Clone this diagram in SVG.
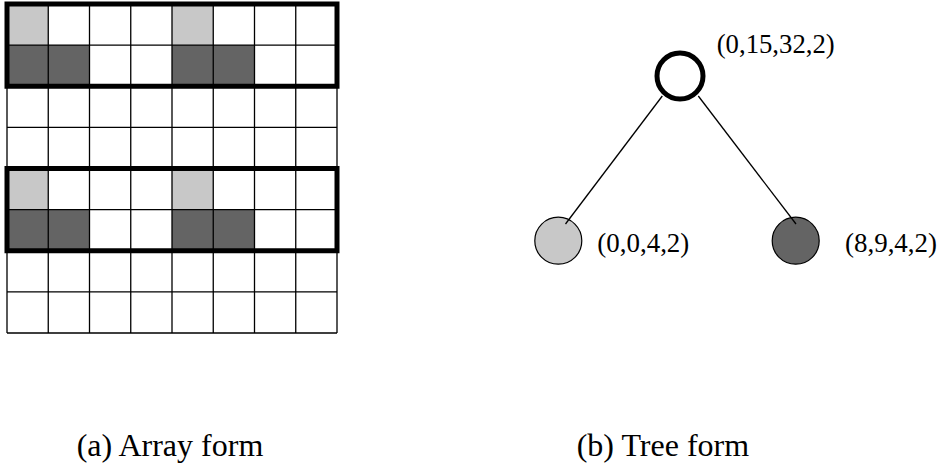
<svg xmlns="http://www.w3.org/2000/svg" width="941" height="469" viewBox="0 0 941 469">
<style>
.grid{stroke:#000;stroke-width:1.3;fill:none}
.thick{stroke:#000;stroke-width:5;fill:none}
.lt{fill:#c8c8c8}
.dk{fill:#646464}
.lbl{font-family:"Liberation Serif","Times New Roman",serif;font-size:27px;fill:#000}
.cap{font-family:"Liberation Serif","Times New Roman",serif;font-size:32px;fill:#000}
.edge{stroke:#000;stroke-width:1.3;fill:none}
</style>
<rect x="0" y="0" width="941" height="469" fill="#fff"/>
<g id="array">
  <g id="block1">
    <rect class="lt" x="7" y="4" width="41.25" height="41.1"/>
    <rect class="lt" x="172" y="4" width="41.25" height="41.1"/>
    <rect class="dk" x="7" y="45.1" width="82.5" height="41.1"/>
    <rect class="dk" x="172" y="45.1" width="82.5" height="41.1"/>
  </g>
  <g id="block2">
    <rect class="lt" x="7" y="168.5" width="41.25" height="41.1"/>
    <rect class="lt" x="172" y="168.5" width="41.25" height="41.1"/>
    <rect class="dk" x="7" y="209.6" width="82.5" height="41.1"/>
    <rect class="dk" x="172" y="209.6" width="82.5" height="41.1"/>
  </g>
  <path class="grid" d="M7 4V333M48.25 4V333M89.5 4V333M130.75 4V333M172 4V333M213.25 4V333M254.5 4V333M295.75 4V333M337 4V333
    M7 4H337M7 45.1H337M7 86.25H337M7 127.4H337M7 168.5H337M7 209.6H337M7 250.75H337M7 291.9H337M7 333H337"/>
  <rect class="thick" x="7" y="4" width="330" height="82.25"/>
  <rect class="thick" x="7" y="168.5" width="330" height="82.25"/>
</g>
<g id="left-child">
  <circle cx="558.3" cy="240.7" r="23.5" class="lt" stroke="#000" stroke-width="1.2"/>
  <text class="lbl" x="597.3" y="252" textLength="92" lengthAdjust="spacingAndGlyphs">(0,0,4,2)</text>
</g>
<g id="right-child">
  <circle cx="795.7" cy="240.7" r="23.5" class="dk" stroke="#000" stroke-width="1.2"/>
  <text class="lbl" x="845" y="252" textLength="92" lengthAdjust="spacingAndGlyphs">(8,9,4,2)</text>
</g>
<g id="connectors">
  <line class="edge" x1="662.3" y1="96" x2="565.5" y2="224"/>
  <line class="edge" x1="698.3" y1="96" x2="796" y2="224"/>
</g>
<g id="root">
  <circle cx="680" cy="76" r="23" fill="#fff" stroke="#000" stroke-width="5"/>
  <text class="lbl" x="716.7" y="53.3" textLength="118" lengthAdjust="spacingAndGlyphs">(0,15,32,2)</text>
</g>
<g id="captions">
  <text class="cap" x="76.7" y="456">(a) Array form</text>
  <text class="cap" x="576.7" y="456">(b) Tree form</text>
</g>
</svg>
